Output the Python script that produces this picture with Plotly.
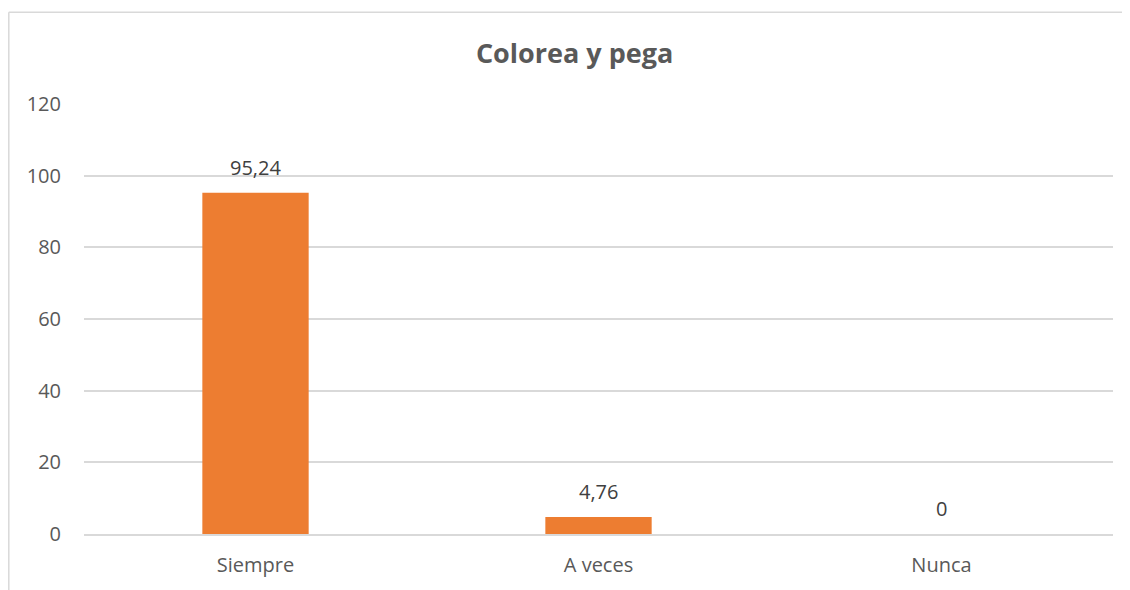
import plotly.graph_objects as go

categories = ["Siempre", "A veces", "Nunca"]
values = [95.24, 4.76, 0]
y_ticks = [0, 20, 40, 60, 80, 100, 120]
title_text = "Colorea y pega"

FONT = "Open Sans"
TXT = "#595959"
GRID = "#D9D9D9"
BAR = "#ED7D31"

fig = go.Figure()
fig.add_trace(go.Bar(x=categories, y=values, marker=dict(color=BAR, line=dict(width=0)),
                     width=0.31, hoverinfo="skip"))

for c, v in zip(categories, values):
    fig.add_annotation(x=c, y=v, text=str(v).replace(".", ","), showarrow=False,
                       yanchor="bottom", yshift=10, font=dict(family=FONT, size=20, color="#404040"))

# page body has an 8px margin, so figure is sized/offset accordingly
W, H = 1122, 582
ml, mr, mt, mb = 76, 17, 96, 53
pw, ph = W - ml - mr, H - mt - mb
x0 = (0.8 - ml) / pw
y0 = (H - mb - 3.5) / ph
fig.add_shape(type="line", xref="paper", yref="paper", x0=x0, x1=x0, y0=y0, y1=-0.2,
              line=dict(color=GRID, width=1.5))
fig.add_shape(type="line", xref="paper", yref="paper", x0=x0, x1=(W - ml + 5) / pw, y0=y0, y1=y0,
              line=dict(color=GRID, width=1.5))

fig.update_layout(
    width=W, height=H,
    margin=dict(l=ml, r=mr, t=mt, b=mb),
    paper_bgcolor="white", plot_bgcolor="white",
    showlegend=False,
    title=dict(text="<b>" + title_text + "</b>", x=0.505, xanchor="center", y=1 - 46 / H, yanchor="middle",
               font=dict(family=FONT, size=27, color=TXT)),
    xaxis=dict(showgrid=False, showline=True, linecolor=GRID, linewidth=1.5, ticks="",
               tickfont=dict(family=FONT, size=20, color=TXT), ticklabelstandoff=12),
    yaxis=dict(range=[0, 120], tickvals=y_ticks, showgrid=True, gridcolor=GRID, gridwidth=1.5,
               zeroline=False, showline=False, ticks="",
               tickfont=dict(family=FONT, size=20, color=TXT), ticklabelstandoff=22),
    bargap=0.69,
)

fig.write_html("out.html")
